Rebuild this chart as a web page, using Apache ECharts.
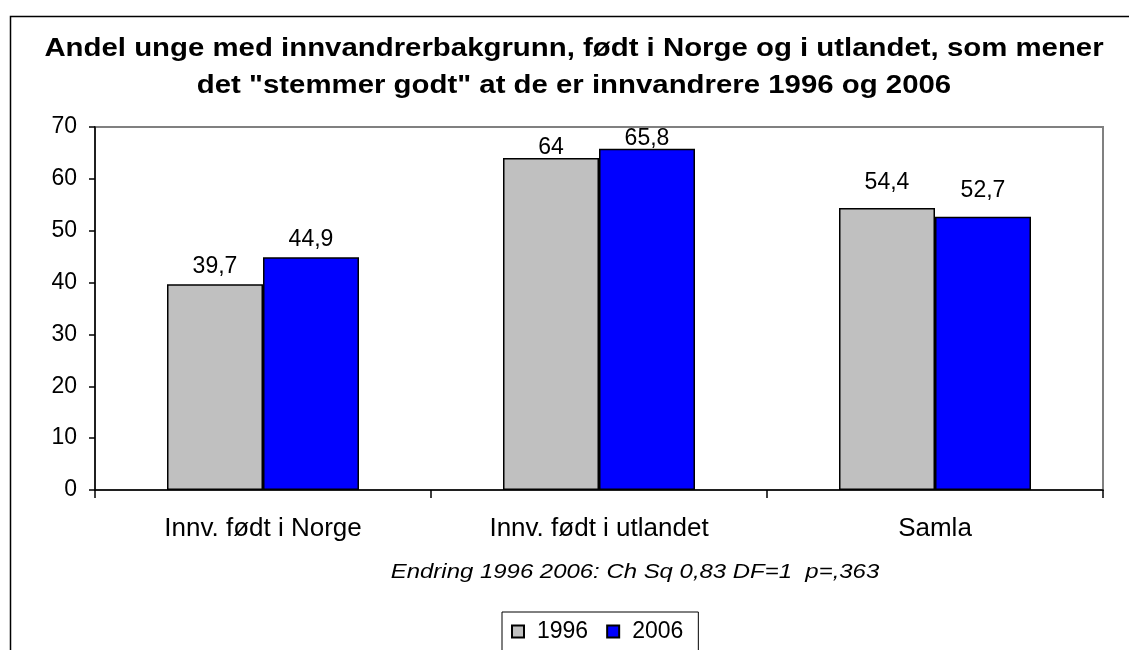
<!DOCTYPE html>
<html>
<head>
<meta charset="utf-8">
<script src="https://cdn.jsdelivr.net/npm/echarts@6/dist/echarts.min.js"></script>
<style>
html,body{margin:0;padding:0;background:#fff;}
#chart{width:1129px;height:650px;}
</style>
</head>
<body>
<div id="chart"></div>
<script>
const categories = ['Innv. født i Norge', 'Innv. født i utlandet', 'Samla'];
const seriesNames = ['1996', '2006'];
const values1996 = [39.7, 64, 54.4];
const values2006 = [44.9, 65.8, 52.7];
const yTicks = { min: 0, max: 70, interval: 10 };
const titleText = 'Andel unge med innvandrerbakgrunn, født i Norge og i utlandet, som mener\ndet "stemmer godt" at de er innvandrere 1996 og 2006';
const noteText = 'Endring 1996 2006: Ch Sq 0,83 DF=1  p=,363';

// label gap above each bar (style only, as in the original Excel layout)
const labelGap1996 = [6, -1, 14];
const labelGap2006 = [6, -1, 15];

const FONT = '"Liberation Sans", Arial, sans-serif';
const chart = echarts.init(document.getElementById('chart'), null, { renderer: 'canvas' });

const labelCfg = {
  show: true,
  position: 'top',
  distance: 2,
  color: '#000',
  fontFamily: FONT,
  fontSize: 23,
  formatter: p => String(p.value).replace('.', ',')
};

function withGaps(values, gaps) {
  return values.map((v, i) => ({ value: v, label: { distance: gaps[i] } }));
}

chart.setOption({
  animation: false,
  backgroundColor: '#fff',
  graphic: [
    { type: 'rect', left: 8, top: 14, shape: { width: 1300, height: 800 }, style: { fill: 'none', stroke: '#000', lineWidth: 1.5 }, silent: true, z: -1 },
    { type: 'text', x: 574, y: 31, scaleX: 1.175, style: { text: titleText, textAlign: 'center', textVerticalAlign: 'top', fontFamily: FONT, fontSize: 25, fontWeight: 'bold', lineHeight: 37, fill: '#000' } },
    { type: 'text', x: 635, y: 572, scaleX: 1.14, style: { text: noteText, textAlign: 'center', textVerticalAlign: 'middle', fontFamily: FONT, fontSize: 21, fontStyle: 'italic', fill: '#000' } }
  ],
  legend: {
    data: seriesNames,
    left: 502,
    top: 612,
    orient: 'horizontal',
    itemWidth: 12,
    itemHeight: 12,
    itemGap: 18,
    padding: [8, 15, 8, 9],
    borderColor: '#000',
    borderWidth: 1,
    icon: 'rect',
    textStyle: { fontFamily: FONT, fontSize: 23, color: '#000', padding: [0, 0, 0, 8] }
  },
  grid: {
    left: 95, right: 26, top: 127, bottom: 160,
    show: true, borderColor: '#808080', borderWidth: 2, backgroundColor: 'transparent'
  },
  xAxis: {
    type: 'category',
    data: categories,
    axisLine: { lineStyle: { color: '#000', width: 1.5 } },
    axisTick: { show: true, length: 8, lineStyle: { color: '#000', width: 1.5 } },
    axisLabel: { margin: 26, fontFamily: FONT, fontSize: 26, color: '#000' }
  },
  yAxis: {
    type: 'value',
    min: yTicks.min, max: yTicks.max, interval: yTicks.interval,
    axisLine: { show: true, lineStyle: { color: '#000', width: 1.5 } },
    axisTick: { show: true, length: 6, lineStyle: { color: '#000', width: 1.5 } },
    splitLine: { show: false },
    axisLabel: { margin: 18, fontFamily: FONT, fontSize: 23, color: '#000' }
  },
  series: [
    { name: seriesNames[0], type: 'bar', data: withGaps(values1996, labelGap1996), barWidth: 96, barGap: '0%',
      itemStyle: { color: '#C0C0C0', borderColor: '#000', borderWidth: 1.5 }, label: labelCfg },
    { name: seriesNames[1], type: 'bar', data: withGaps(values2006, labelGap2006), barWidth: 96, barGap: '0%',
      itemStyle: { color: '#0000FF', borderColor: '#000', borderWidth: 1.5 }, label: labelCfg }
  ]
});
</script>
</body>
</html>
